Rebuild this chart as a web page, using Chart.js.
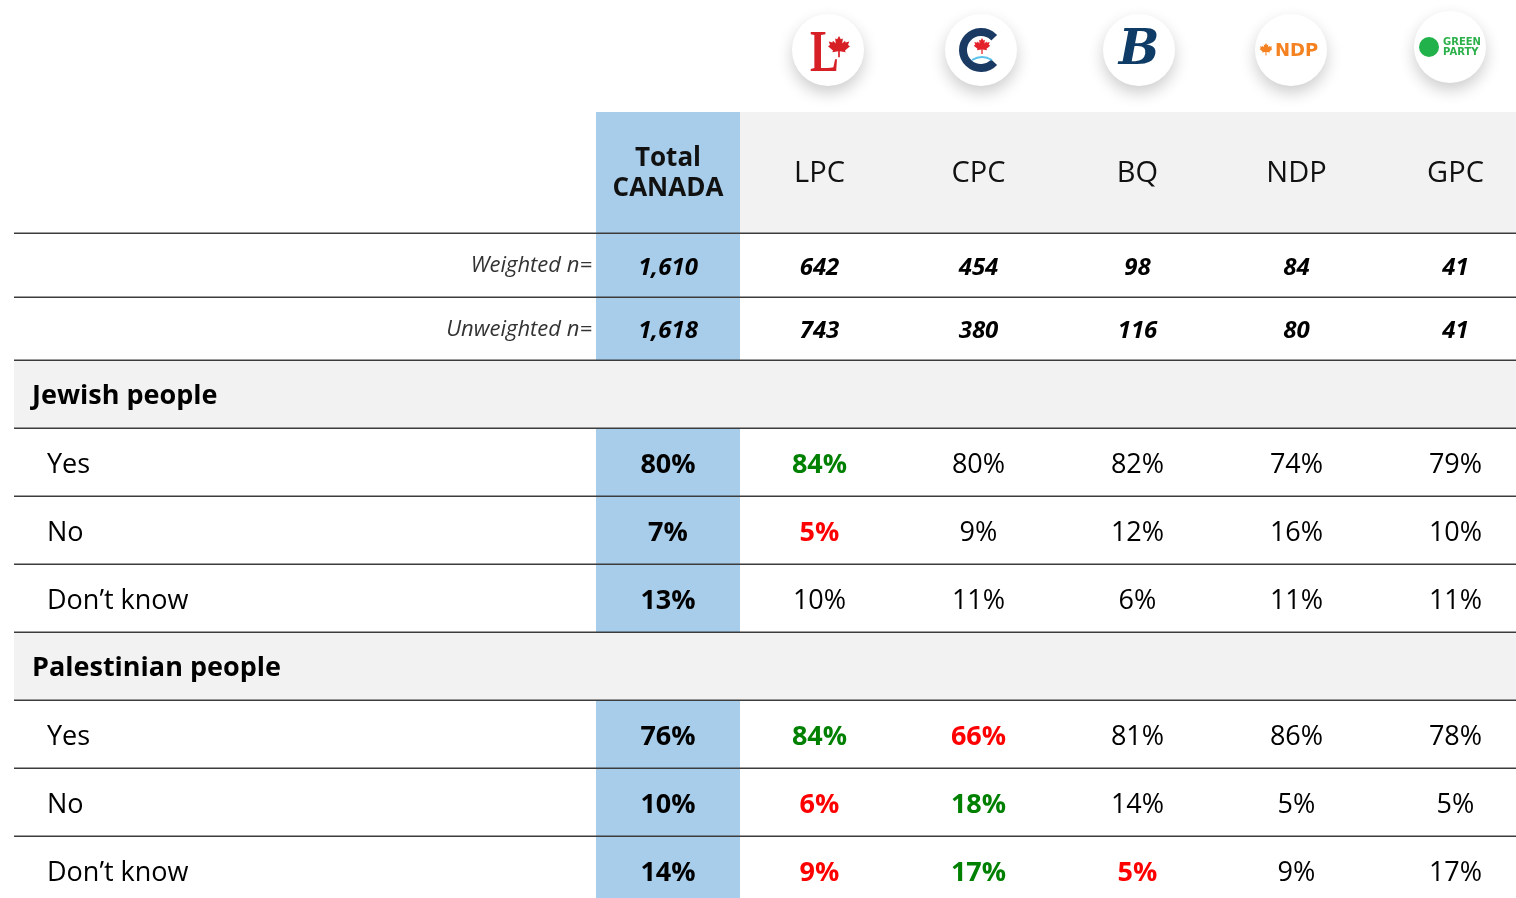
<!DOCTYPE html>
<html>
<head>
<meta charset="utf-8">
<script src="https://cdn.jsdelivr.net/npm/chart.js@4.4.1/dist/chart.umd.min.js"></script>
<style>
  html, body { margin: 0; padding: 0; background: #fff; }
  canvas { display: block; }
</style>
</head>
<body>
<canvas id="tbl" width="1516" height="898"></canvas>
<script>
// --- data ---
const parties = ["LPC", "CPC", "BQ", "NDP", "GPC"];
const weightedN = ["1,610", "642", "454", "98", "84", "41"];
const unweightedN = ["1,618", "743", "380", "116", "80", "41"];

const jewishYes = [80, 84, 80, 82, 74, 79];
const jewishNo = [7, 5, 9, 12, 16, 10];
const jewishDk = [13, 10, 11, 6, 11, 11];
const palYes = [76, 84, 66, 81, 86, 78];
const palNo = [10, 6, 18, 14, 5, 5];
const palDk = [14, 9, 17, 5, 9, 17];

// 1 = signifikant höher (grün), -1 = signifikant tiefer (rot)
const jewishYesSig = [0, 1, 0, 0, 0, 0];
const jewishNoSig = [0, -1, 0, 0, 0, 0];
const jewishDkSig = [0, 0, 0, 0, 0, 0];
const palYesSig = [0, 1, -1, 0, 0, 0];
const palNoSig = [0, -1, 1, 0, 0, 0];
const palDkSig = [0, -1, 1, -1, 0, 0];

const answerLabels = ["Yes", "No", "Don\u2019t know"];
const sections = ["Jewish people", "Palestinian people"];

// --- layout (table grid in canvas px) ---
const W = 1516, H = 898;
const COL_EDGES = [14, 596, 740, 899, 1058, 1217, 1376, 1535];
const ROW_EDGES = [112, 233, 297, 360, 428, 496, 564, 632, 700, 768, 836, 904];
const LOGO_X = [828, 981, 1139, 1291, 1450];
const LOGO_Y = [50, 50, 50, 50, 47];
const TXT_DY = 3; // Schrift sitzt etwas tiefer als "middle"
const FONT = '"Open Sans", "Noto Sans", sans-serif';
const BLUE = "#A7CDEB", GREY = "#F2F2F2", LINE = "#3c3c3c";

const colMid = c => (COL_EDGES[c] + COL_EDGES[c + 1]) / 2;
const rowMid = r => (ROW_EDGES[r] + ROW_EDGES[r + 1]) / 2;

// Zellen als Punkte -> Position kommt über die Skalen
const cells = [];
function addRow(r, vals, kind, sig) {
    vals.forEach((v, i) => {
        cells.push({
            x: colMid(i + 1), y: rowMid(r) + TXT_DY,
            t: kind === "pct" ? v + "%" : v,
            kind, total: i === 0, sig: sig ? sig[i] : 0
        });
    });
}
addRow(1, weightedN, "n");
addRow(2, unweightedN, "n");
addRow(4, jewishYes, "pct", jewishYesSig);
addRow(5, jewishNo, "pct", jewishNoSig);
addRow(6, jewishDk, "pct", jewishDkSig);
addRow(8, palYes, "pct", palYesSig);
addRow(9, palNo, "pct", palNoSig);
addRow(10, palDk, "pct", palDkSig);

// --- Logos ---
const LEAF = [[0,-1],[0.15,-0.72],[0.32,-0.8],[0.27,-0.38],[0.5,-0.6],[0.55,-0.46],[0.85,-0.55],
    [0.75,-0.24],[0.92,-0.14],[0.5,0.2],[0.56,0.36],[0.07,0.28],[0.07,0.78]];
function leaf(ctx, cx, cy, s, color) {
    const pts = LEAF.concat(LEAF.slice().reverse().map(p => [-p[0], p[1]]));
    ctx.beginPath();
    pts.forEach((p, i) => {
        const px = cx + p[0] * s, py = cy + p[1] * s;
        i ? ctx.lineTo(px, py) : ctx.moveTo(px, py);
    });
    ctx.closePath();
    ctx.fillStyle = color;
    ctx.fill();
}
function logoCircle(ctx, cx, cy) {
    ctx.save();
    ctx.shadowColor = "rgba(0,0,0,0.20)";
    ctx.shadowBlur = 16;
    ctx.shadowOffsetY = 7;
    ctx.beginPath();
    ctx.arc(cx, cy, 36, 0, Math.PI * 2);
    ctx.fillStyle = "#fff";
    ctx.fill();
    ctx.restore();
}
const logoDraw = {
    LPC(ctx, cx, cy) {
        ctx.save();
        ctx.translate(cx - 18, cy + 21);
        ctx.scale(0.72, 1);
        ctx.font = 'bold 60px "Liberation Serif", serif';
        ctx.fillStyle = "#D71F26";
        ctx.textAlign = "left";
        ctx.textBaseline = "alphabetic";
        ctx.fillText("L", 0, 0);
        ctx.restore();
        leaf(ctx, cx + 11, cy - 2, 12, "#D71F26");
    },
    CPC(ctx, cx, cy) {
        ctx.beginPath();
        ctx.arc(cx, cy, 18, 0.75, Math.PI * 2 - 0.75);
        ctx.lineWidth = 8;
        ctx.strokeStyle = "#1B3A63";
        ctx.stroke();
        leaf(ctx, cx + 1, cy - 3, 9, "#E3222B");
        ctx.beginPath();
        ctx.moveTo(cx - 9, cy + 10);
        ctx.quadraticCurveTo(cx + 1, cy + 4, cx + 11, cy + 10);
        ctx.lineWidth = 2;
        ctx.strokeStyle = "#5BC2EB";
        ctx.stroke();
    },
    BQ(ctx, cx, cy) {
        ctx.save();
        ctx.font = 'bold italic 48px "DejaVu Serif", serif';
        ctx.fillStyle = "#0E3C67";
        ctx.textAlign = "center";
        ctx.textBaseline = "middle";
        ctx.fillText("B", cx, cy + 2);
        ctx.restore();
    },
    NDP(ctx, cx, cy) {
        leaf(ctx, cx - 25, cy, 7, "#F58220");
        ctx.save();
        ctx.font = 'bold 18px "DejaVu Sans", sans-serif';
        ctx.fillStyle = "#F58220";
        ctx.textAlign = "left";
        ctx.textBaseline = "middle";
        ctx.fillText("NDP", cx - 16, cy + 1);
        ctx.restore();
    },
    GPC(ctx, cx, cy) {
        ctx.beginPath();
        ctx.arc(cx - 21, cy, 10, 0, Math.PI * 2);
        ctx.fillStyle = "#22B24C";
        ctx.fill();
        ctx.save();
        ctx.font = 'bold 10px "DejaVu Sans", sans-serif';
        ctx.fillStyle = "#2BB04A";
        ctx.textAlign = "left";
        ctx.textBaseline = "middle";
        ctx.fillText("GREEN", cx - 7, cy - 5);
        ctx.fillText("PARTY", cx - 7, cy + 5);
        ctx.restore();
    }
};

// --- Tabellen-Plugin ---
const tablePlugin = {
    id: "tablePlugin",
    beforeDatasetsDraw(chart) {
        const ctx = chart.ctx;
        const xs = chart.scales.x, ys = chart.scales.y;
        const X = v => xs.getPixelForValue(v), Y = v => ys.getPixelForValue(v);
        ctx.save();

        // Hintergründe
        ctx.fillStyle = GREY;
        ctx.fillRect(X(COL_EDGES[2]), Y(ROW_EDGES[0]), X(W) - X(COL_EDGES[2]), Y(ROW_EDGES[1]) - Y(ROW_EDGES[0]));
        ctx.fillStyle = BLUE;
        ctx.fillRect(X(COL_EDGES[1]), Y(ROW_EDGES[0]), X(COL_EDGES[2]) - X(COL_EDGES[1]), Y(H) - Y(ROW_EDGES[0]));
        [3, 7].forEach(r => {
            ctx.fillStyle = GREY;
            ctx.fillRect(X(COL_EDGES[0]), Y(ROW_EDGES[r]), X(W) - X(COL_EDGES[0]), Y(ROW_EDGES[r + 1]) - Y(ROW_EDGES[r]));
        });

        // Linien
        ctx.strokeStyle = LINE;
        ctx.lineWidth = 1.5;
        for (let r = 1; r <= 10; r++) {
            const y = Math.round(Y(ROW_EDGES[r])) + 0.25;
            ctx.beginPath();
            ctx.moveTo(X(COL_EDGES[0]), y);
            ctx.lineTo(X(W), y);
            ctx.stroke();
        }

        // Kopfzeile
        ctx.fillStyle = "#111";
        ctx.textAlign = "center";
        ctx.textBaseline = "middle";
        ctx.font = "bold 26px " + FONT;
        ctx.fillText("Total", X(colMid(1)), Y(rowMid(0)) - 14);
        ctx.fillText("CANADA", X(colMid(1)), Y(rowMid(0)) + 16);
        ctx.font = "29px " + FONT;
        parties.forEach((p, i) => ctx.fillText(p, X(colMid(i + 2)), Y(rowMid(0)) + 1));

        // Logos
        parties.forEach((p, i) => {
            const cx = X(LOGO_X[i]), cy = Y(LOGO_Y[i]);
            logoCircle(ctx, cx, cy);
            logoDraw[p](ctx, cx, cy);
        });

        // Zeilenbeschriftungen
        ctx.textAlign = "right";
        ctx.textBaseline = "middle";
        ctx.fillStyle = "#333";
        ctx.font = "italic 22px " + FONT;
        ctx.fillText("Weighted n=", X(COL_EDGES[1]) - 4, Y(rowMid(1)) + 1);
        ctx.fillText("Unweighted n=", X(COL_EDGES[1]) - 4, Y(rowMid(2)) + 1);

        ctx.textAlign = "left";
        ctx.fillStyle = "#000";
        ctx.font = "bold 27px " + FONT;
        ctx.fillText(sections[0], X(32), Y(rowMid(3)) + TXT_DY - 1);
        ctx.fillText(sections[1], X(32), Y(rowMid(7)) + TXT_DY - 1);
        ctx.font = "27px " + FONT;
        [[4, 5, 6], [8, 9, 10]].forEach(rows => {
            rows.forEach((r, k) => ctx.fillText(answerLabels[k], X(47), Y(rowMid(r)) + TXT_DY));
        });

        // Werte (Positionen aus den Punkt-Elementen)
        const meta = chart.getDatasetMeta(0);
        ctx.textAlign = "center";
        meta.data.forEach((pt, i) => {
            const d = chart.data.datasets[0].data[i];
            if (d.kind === "n") {
                ctx.font = "italic bold 24px " + FONT;
                ctx.fillStyle = "#000";
            } else {
                const bold = d.total || d.sig !== 0;
                ctx.font = (bold ? "bold " : "") + "27px " + FONT;
                ctx.fillStyle = d.sig > 0 ? "#008000" : d.sig < 0 ? "#FF0000" : "#000";
            }
            ctx.fillText(d.t, pt.x, pt.y);
        });

        ctx.restore();
    }
};

new Chart(document.getElementById("tbl"), {
    type: "scatter",
    plugins: [tablePlugin],
    data: {
        datasets: [{
            label: "cells",
            data: cells,
            pointRadius: 0,
            pointHoverRadius: 0
        }]
    },
    options: {
        responsive: false,
        animation: false,
        layout: { padding: 0 },
        scales: {
            x: { type: "linear", min: 0, max: W, display: false },
            y: { type: "linear", min: 0, max: H, reverse: true, display: false }
        },
        plugins: {
            legend: { display: false },
            tooltip: { enabled: false }
        }
    }
});
</script>
</body>
</html>
